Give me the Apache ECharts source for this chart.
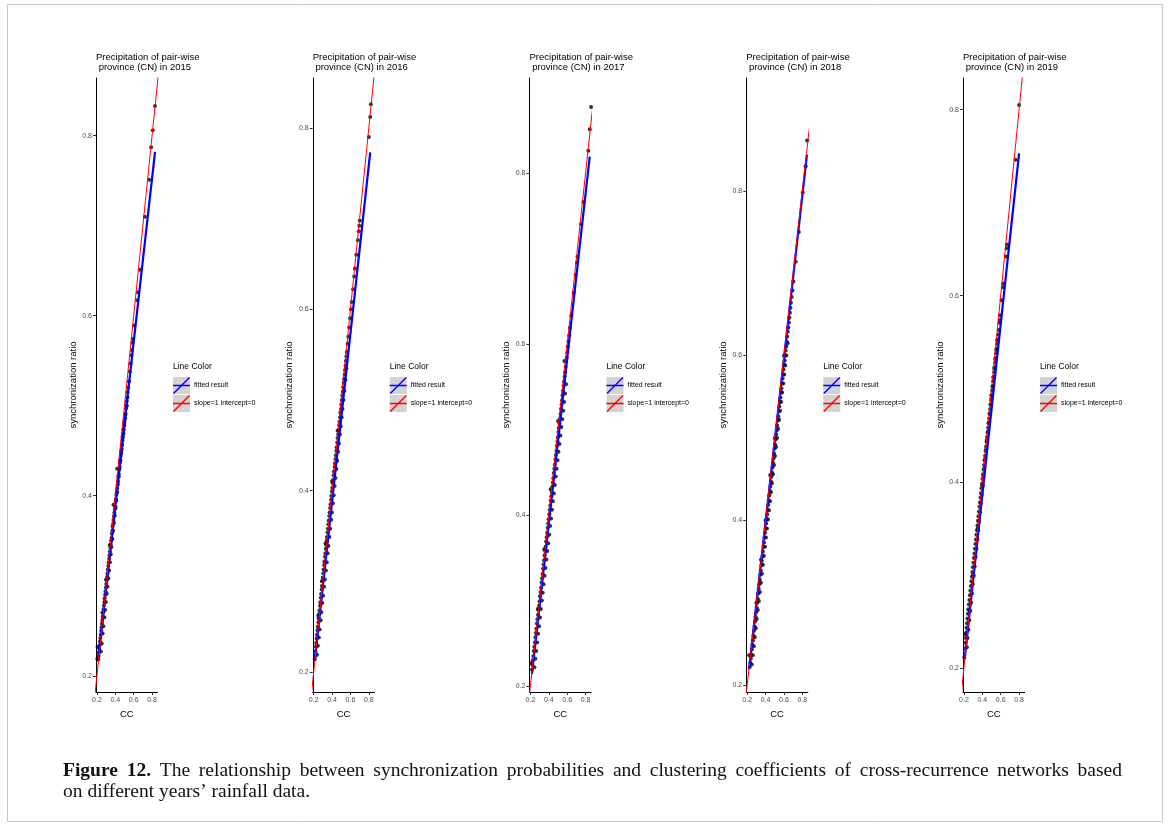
<!DOCTYPE html>
<html>
<head>
<meta charset="utf-8">
<script src="https://cdn.jsdelivr.net/npm/echarts@6/dist/echarts.min.js"></script>
<style>
html,body{margin:0;padding:0;background:#fff;}
#chart{width:1168px;height:825px;}
</style>
</head>
<body>
<div id="chart"></div>
<script>
// ---------- data ----------
const years = ['2015', '2016', '2017', '2018', '2019'];
const xTicks = [0.2, 0.4, 0.6, 0.8];
const yTicks = [0.2, 0.4, 0.6, 0.8];
const xRange = [0.19, 0.86];
const yRanges = [[0.182, 0.864], [0.178, 0.855], [0.193, 0.911], [0.1915, 0.937], [0.174, 0.834]];

// slope=1 intercept=0 reference line
const refLine = [[0, 0], [1, 1]];

// fitted (lm) line end points per year
const fit2015 = [[0.21, 0.216], [0.832, 0.782]];
const fit2016 = [[0.212, 0.213], [0.815, 0.773]];
const fit2017 = [[0.216, 0.214], [0.845, 0.819]];
const fit2018 = [[0.22, 0.219], [0.85, 0.844]];
const fit2019 = [[0.208, 0.209], [0.8, 0.753]];

// points: [CC, synchronization ratio]
const pts2015 = [
[0.832,0.833],[0.808,0.806],[0.79,0.787],[0.768,0.751],[0.722,0.71],[0.668,0.651],[0.645,0.626],[0.638,0.617],
[0.607,0.589],[0.592,0.574],[0.588,0.57],[0.58,0.562],[0.575,0.556],[0.567,0.547],[0.559,0.538],[0.548,0.527],[0.541,0.52],
[0.533,0.515],[0.531,0.509],[0.524,0.505],[0.52,0.5],[0.516,0.497],[0.51,0.491],[0.508,0.486],[0.5,0.483],[0.498,0.478],
[0.49,0.474],[0.489,0.469],[0.481,0.466],[0.478,0.461],[0.472,0.457],[0.47,0.452],[0.463,0.449],[0.459,0.444],[0.455,0.44],
[0.45,0.437],[0.447,0.432],[0.441,0.429],[0.438,0.424],[0.433,0.421],[0.429,0.416],[0.424,0.412],[0.42,0.408],[0.417,0.404],
[0.411,0.401],[0.407,0.396],[0.403,0.393],[0.398,0.388],[0.395,0.385],[0.389,0.381],[0.386,0.377],[0.38,0.373],[0.377,0.369],
[0.371,0.366],[0.368,0.361],[0.363,0.358],[0.359,0.353],[0.354,0.35],[0.35,0.346],[0.346,0.342],[0.341,0.338],[0.337,0.334],
[0.333,0.33],[0.328,0.326],[0.324,0.322],[0.319,0.318],[0.315,0.314],[0.311,0.31],[0.306,0.306],[0.302,0.302],[0.298,0.298],
[0.293,0.294],[0.289,0.29],[0.284,0.286],[0.281,0.282],[0.276,0.278],[0.272,0.274],[0.268,0.27],[0.263,0.266],[0.259,0.262],
[0.255,0.258],[0.25,0.254],[0.247,0.25],[0.242,0.246],[0.238,0.242],[0.234,0.238],[0.23,0.234],[0.226,0.23],[0.222,0.226],
[0.219,0.222],[0.215,0.218],[0.206,0.232],[0.204,0.219],[0.34,0.345],[0.3,0.307],[0.26,0.27],[0.42,0.43],[0.38,0.39],
[0.243,0.227],[0.252,0.236],[0.262,0.247],[0.27,0.255],[0.281,0.265],[0.289,0.273],[0.297,0.282],[0.307,0.291],[0.315,0.299],
[0.324,0.308],[0.333,0.317],[0.341,0.326],[0.35,0.335],[0.358,0.343],[0.368,0.352],[0.376,0.361],[0.385,0.37],[0.393,0.378],
[0.403,0.387],[0.411,0.395],[0.419,0.404],[0.428,0.413],[0.437,0.421],[0.445,0.43],[0.454,0.439],[0.463,0.447],[0.471,0.456],
[0.48,0.464],[0.49,0.473],[0.498,0.48],[0.51,0.49],[0.525,0.5]
];
const pts2016 = [
[0.822,0.826],[0.815,0.812],[0.8,0.79],[0.702,0.698],[0.696,0.692],[0.69,0.686],[0.681,0.676],[0.664,0.66],[0.649,0.645],
[0.641,0.636],[0.629,0.622],[0.614,0.608],[0.606,0.6],[0.597,0.59],[0.586,0.58],[0.577,0.57],[0.569,0.562],[0.561,0.553],
[0.556,0.548],[0.551,0.543],[0.547,0.538],[0.541,0.533],[0.537,0.528],[0.531,0.523],[0.527,0.519],[0.521,0.514],[0.517,0.509],
[0.511,0.505],[0.507,0.5],[0.5,0.495],[0.497,0.49],[0.49,0.486],[0.487,0.481],[0.481,0.476],[0.477,0.472],[0.471,0.467],
[0.467,0.462],[0.46,0.458],[0.457,0.453],[0.45,0.448],[0.447,0.444],[0.441,0.439],[0.437,0.435],[0.431,0.43],[0.428,0.426],
[0.421,0.421],[0.418,0.417],[0.412,0.412],[0.408,0.408],[0.402,0.403],[0.398,0.399],[0.392,0.394],[0.389,0.39],[0.383,0.385],
[0.379,0.381],[0.373,0.376],[0.37,0.372],[0.364,0.367],[0.36,0.363],[0.355,0.358],[0.351,0.354],[0.345,0.349],[0.342,0.345],
[0.336,0.34],[0.332,0.336],[0.327,0.331],[0.323,0.327],[0.317,0.322],[0.314,0.318],[0.308,0.313],[0.305,0.309],[0.299,0.304],
[0.296,0.3],[0.29,0.295],[0.287,0.291],[0.281,0.286],[0.278,0.282],[0.272,0.277],[0.269,0.273],[0.263,0.268],[0.26,0.264],
[0.254,0.259],[0.251,0.255],[0.245,0.25],[0.242,0.246],[0.236,0.241],[0.233,0.237],[0.228,0.232],[0.225,0.228],[0.22,0.223],
[0.217,0.218],[0.213,0.214],[0.33,0.342],[0.29,0.3],[0.4,0.41],[0.25,0.262],[0.46,0.466],
[0.236,0.219],[0.246,0.229],[0.256,0.238],[0.265,0.247],[0.276,0.257],[0.284,0.266],[0.295,0.276],[0.303,0.284],[0.314,0.294],
[0.322,0.302],[0.333,0.312],[0.342,0.321],[0.352,0.331],[0.36,0.339],[0.371,0.349],[0.38,0.358],[0.39,0.368],[0.398,0.376],
[0.409,0.386],[0.418,0.395],[0.428,0.405],[0.437,0.414],[0.447,0.424],[0.456,0.433],[0.466,0.443],[0.475,0.452],[0.485,0.462],
[0.494,0.471],[0.504,0.481],[0.513,0.49],[0.524,0.5],[0.533,0.51],[0.545,0.522],[0.555,0.535]
];
const pts2017 = [
[0.86,0.877],[0.845,0.851],[0.83,0.826],[0.776,0.766],[0.751,0.74],[0.712,0.702],[0.706,0.695],[0.692,0.681],[0.671,0.66],
[0.645,0.633],[0.631,0.619],[0.622,0.61],[0.613,0.603],[0.607,0.597],[0.601,0.59],[0.594,0.584],[0.589,0.579],[0.583,0.573],
[0.577,0.567],[0.572,0.562],[0.566,0.556],[0.561,0.551],[0.555,0.545],[0.549,0.54],[0.544,0.534],[0.538,0.529],[0.533,0.524],
[0.527,0.518],[0.522,0.513],[0.516,0.507],[0.51,0.502],[0.505,0.497],[0.499,0.491],[0.494,0.486],[0.488,0.481],[0.483,0.475],
[0.477,0.47],[0.471,0.465],[0.466,0.459],[0.46,0.454],[0.455,0.449],[0.449,0.443],[0.444,0.438],[0.438,0.433],[0.432,0.427],
[0.427,0.422],[0.421,0.417],[0.416,0.411],[0.41,0.406],[0.405,0.401],[0.399,0.395],[0.393,0.39],[0.388,0.385],[0.382,0.379],
[0.377,0.374],[0.371,0.369],[0.366,0.363],[0.36,0.358],[0.354,0.353],[0.349,0.347],[0.343,0.342],[0.338,0.337],[0.332,0.331],
[0.327,0.326],[0.321,0.321],[0.315,0.315],[0.31,0.31],[0.304,0.305],[0.299,0.299],[0.293,0.294],[0.288,0.289],[0.282,0.283],
[0.276,0.278],[0.271,0.273],[0.265,0.267],[0.26,0.262],[0.254,0.257],[0.249,0.251],[0.243,0.246],[0.237,0.241],[0.232,0.235],
[0.226,0.23],[0.221,0.225],[0.216,0.219],[0.212,0.227],[0.5,0.51],[0.42,0.43],[0.35,0.36],[0.28,0.29],[0.57,0.58],
[0.243,0.222],[0.253,0.232],[0.263,0.241],[0.273,0.251],[0.283,0.261],[0.294,0.27],[0.304,0.28],[0.313,0.29],[0.324,0.3],
[0.334,0.309],[0.343,0.319],[0.354,0.329],[0.364,0.338],[0.374,0.348],[0.384,0.358],[0.394,0.367],[0.405,0.377],[0.414,0.387],
[0.424,0.396],[0.435,0.406],[0.444,0.416],[0.455,0.425],[0.465,0.435],[0.475,0.445],[0.485,0.454],[0.495,0.464],[0.505,0.474],
[0.516,0.483],[0.526,0.493],[0.536,0.503],[0.546,0.512],[0.556,0.522],[0.567,0.532],[0.577,0.542],[0.588,0.553]
];
const pts2018 = [
[0.87,0.904],[0.852,0.861],[0.836,0.83],[0.805,0.798],[0.762,0.75],[0.728,0.714],[0.703,0.69],[0.692,0.679],[0.684,0.671],
[0.676,0.664],[0.671,0.658],[0.665,0.652],[0.659,0.646],[0.654,0.64],[0.648,0.634],[0.642,0.629],[0.636,0.623],[0.631,0.617],
[0.625,0.611],[0.619,0.606],[0.613,0.6],[0.608,0.594],[0.602,0.589],[0.596,0.583],[0.59,0.577],[0.585,0.572],[0.579,0.566],
[0.573,0.56],[0.567,0.555],[0.562,0.549],[0.556,0.543],[0.55,0.538],[0.544,0.532],[0.539,0.526],[0.533,0.521],[0.527,0.515],
[0.521,0.509],[0.516,0.504],[0.51,0.498],[0.504,0.492],[0.498,0.487],[0.493,0.481],[0.487,0.475],[0.481,0.47],[0.475,0.464],
[0.47,0.458],[0.464,0.453],[0.458,0.447],[0.452,0.441],[0.447,0.436],[0.441,0.43],[0.435,0.424],[0.429,0.419],[0.424,0.413],
[0.418,0.407],[0.412,0.402],[0.406,0.396],[0.401,0.39],[0.395,0.385],[0.389,0.379],[0.383,0.373],[0.378,0.368],[0.372,0.362],
[0.366,0.356],[0.36,0.351],[0.355,0.345],[0.349,0.339],[0.343,0.334],[0.337,0.328],[0.332,0.322],[0.326,0.317],[0.32,0.311],
[0.314,0.305],[0.309,0.3],[0.303,0.294],[0.297,0.288],[0.291,0.283],[0.286,0.277],[0.28,0.271],[0.274,0.266],[0.268,0.26],
[0.263,0.254],[0.257,0.249],[0.251,0.243],[0.245,0.237],[0.24,0.232],[0.234,0.227],[0.228,0.222],[0.222,0.236],[0.6,0.6],
[0.5,0.5],[0.4,0.4],[0.3,0.3],[0.45,0.455],[0.35,0.352],
[0.25,0.225],[0.261,0.236],[0.272,0.247],[0.283,0.258],[0.294,0.269],[0.305,0.28],[0.316,0.291],[0.327,0.302],[0.338,0.313],
[0.349,0.324],[0.36,0.335],[0.371,0.346],[0.382,0.357],[0.393,0.368],[0.404,0.379],[0.415,0.39],[0.426,0.401],[0.437,0.412],
[0.448,0.423],[0.459,0.434],[0.47,0.445],[0.481,0.456],[0.492,0.467],[0.503,0.478],[0.514,0.489],[0.525,0.5],[0.536,0.511],
[0.547,0.522],[0.558,0.533],[0.569,0.544],[0.58,0.555],[0.592,0.566],[0.603,0.577],[0.614,0.588],[0.626,0.6],[0.64,0.615]
];
const pts2019 = [
[0.8,0.805],[0.762,0.746],[0.668,0.655],[0.664,0.651],[0.658,0.642],[0.629,0.613],[0.624,0.609],[0.61,0.595],[0.594,0.579],
[0.589,0.574],[0.586,0.571],[0.578,0.563],[0.573,0.558],[0.567,0.553],[0.562,0.548],[0.556,0.543],[0.551,0.538],[0.545,0.533],
[0.54,0.528],[0.534,0.523],[0.529,0.518],[0.523,0.513],[0.518,0.508],[0.512,0.503],[0.507,0.498],[0.501,0.493],[0.496,0.488],
[0.49,0.483],[0.485,0.478],[0.479,0.473],[0.474,0.468],[0.468,0.463],[0.463,0.458],[0.457,0.453],[0.452,0.448],[0.446,0.443],
[0.441,0.438],[0.435,0.433],[0.43,0.428],[0.424,0.423],[0.419,0.418],[0.413,0.413],[0.408,0.408],[0.402,0.403],[0.397,0.398],
[0.391,0.393],[0.386,0.388],[0.38,0.383],[0.375,0.378],[0.369,0.373],[0.364,0.368],[0.358,0.363],[0.353,0.358],[0.347,0.353],
[0.342,0.348],[0.336,0.343],[0.331,0.338],[0.325,0.333],[0.32,0.328],[0.314,0.323],[0.309,0.318],[0.303,0.313],[0.298,0.308],
[0.292,0.303],[0.287,0.298],[0.281,0.293],[0.276,0.288],[0.27,0.283],[0.265,0.278],[0.259,0.273],[0.254,0.268],[0.248,0.263],
[0.243,0.258],[0.238,0.253],[0.234,0.248],[0.229,0.243],[0.226,0.238],[0.222,0.232],[0.218,0.227],[0.216,0.221],[0.204,0.211],
[0.215,0.236],[0.3,0.3],[0.35,0.35],[0.4,0.396],[0.45,0.445],[0.5,0.49],[0.26,0.262],
[0.232,0.222],[0.24,0.232],[0.249,0.241],[0.259,0.251],[0.268,0.261],[0.278,0.27],[0.288,0.28],[0.297,0.29],[0.307,0.299],
[0.317,0.309],[0.326,0.319],[0.336,0.328],[0.346,0.338],[0.355,0.348],[0.365,0.357],[0.375,0.367],[0.384,0.377],[0.394,0.386],
[0.404,0.396],[0.413,0.406],[0.423,0.415],[0.433,0.425],[0.442,0.435],[0.452,0.444],[0.462,0.454],[0.471,0.464],[0.481,0.473],
[0.491,0.483],[0.5,0.493],[0.51,0.502],[0.52,0.512],[0.53,0.522],[0.54,0.532],[0.551,0.542],[0.562,0.552]
];

const pointsByYear = [pts2015, pts2016, pts2017, pts2018, pts2019];
const fitsByYear = [fit2015, fit2016, fit2017, fit2018, fit2019];

const captionBold = 'Figure 12.';
const captionLine1 = 'The relationship between synchronization probabilities and clustering coefficients of cross-recurrence networks based';
const captionLine2 = 'on different years\u2019 rainfall data.';

// ---------- layout ----------
const panelLeft0 = 96, panelStep = 216.75, panelW = 61.6, panelTop = 78, panelH = 614;
const sans = "'Liberation Sans', Arial, Helvetica, sans-serif";
const serif = "'Liberation Serif', 'Times New Roman', serif";

const grids = [], xAxes = [], yAxes = [], series = [], titles = [], graphics = [];

years.forEach((yr, i) => {
  const left = panelLeft0 + i * panelStep;
  grids.push({ left: left, top: panelTop, width: panelW, height: panelH, containLabel: false });
  xAxes.push({
    type: 'value', gridIndex: i, min: xRange[0], max: xRange[1],
    name: 'CC', nameLocation: 'middle', nameGap: 16,
    nameTextStyle: { fontSize: 9.5, color: '#000', fontFamily: sans },
    axisLine: { show: true, lineStyle: { color: '#000', width: 1 } },
    axisTick: { show: true, length: 3, lineStyle: { color: '#333' }, customValues: xTicks },
    axisLabel: { fontSize: 7, color: '#4d4d4d', fontFamily: sans, margin: 5, customValues: xTicks,
      formatter: v => v.toFixed(1) },
    splitLine: { show: false }
  });
  yAxes.push({
    type: 'value', gridIndex: i, min: yRanges[i][0], max: yRanges[i][1],
    name: 'synchronization ratio', nameLocation: 'middle', nameGap: 18,
    nameTextStyle: { fontSize: 9.5, color: '#000', fontFamily: sans },
    axisLine: { show: true, lineStyle: { color: '#000', width: 1 } },
    axisTick: { show: true, length: 3, lineStyle: { color: '#333' }, customValues: yTicks },
    axisLabel: { fontSize: 7, color: '#4d4d4d', fontFamily: sans, margin: 4, customValues: yTicks,
      formatter: v => v.toFixed(1) },
    splitLine: { show: false }
  });
  series.push({
    type: 'scatter', xAxisIndex: i, yAxisIndex: i, data: pointsByYear[i],
    symbol: 'circle', symbolSize: 4, itemStyle: { color: '#000' }, z: 2
  });
  series.push({
    type: 'line', xAxisIndex: i, yAxisIndex: i, data: fitsByYear[i],
    showSymbol: false, symbol: 'none', lineStyle: { color: '#0000ff', width: 2.2 }, z: 3
  });
  series.push({
    type: 'line', xAxisIndex: i, yAxisIndex: i, data: refLine, clip: true,
    showSymbol: false, symbol: 'none', lineStyle: { color: '#ff0000', width: 1 }, z: 4
  });
  titles.push({
    text: 'Precipitation of pair-wise\n province (CN) in ' + yr,
    left: left, top: 52, padding: 0,
    textStyle: { fontSize: 9.5, fontWeight: 'normal', color: '#000', fontFamily: sans, lineHeight: 10.5 }
  });
  // legend drawn as graphics
  const lx = 173 + i * panelStep;
  graphics.push(
    { type: 'text', left: lx, top: 362, style: { text: 'Line Color', fontSize: 8.5, fill: '#000', fontFamily: sans } },
    { type: 'rect', shape: { x: lx, y: 377, width: 17, height: 17 }, style: { fill: '#d3d3d3' } },
    { type: 'line', shape: { x1: lx + 0.5, y1: 393.5, x2: lx + 16.5, y2: 377.5 }, style: { stroke: '#0000ff', lineWidth: 1.5 } },
    { type: 'line', shape: { x1: lx, y1: 385.5, x2: lx + 17, y2: 385.5 }, style: { stroke: '#0000ff', lineWidth: 1.5 } },
    { type: 'text', left: lx + 21, top: 381.5, style: { text: 'fitted result', fontSize: 7, fill: '#000', fontFamily: sans } },
    { type: 'rect', shape: { x: lx, y: 395, width: 17, height: 17 }, style: { fill: '#d3d3d3' } },
    { type: 'line', shape: { x1: lx + 0.5, y1: 411.5, x2: lx + 16.5, y2: 395.5 }, style: { stroke: '#ff0000', lineWidth: 1.5 } },
    { type: 'line', shape: { x1: lx, y1: 403.5, x2: lx + 17, y2: 403.5 }, style: { stroke: '#ff0000', lineWidth: 1.5 } },
    { type: 'text', left: lx + 21, top: 399.5, style: { text: 'slope=1 intercept=0', fontSize: 7, fill: '#000', fontFamily: sans } }
  );
});

// frame
graphics.push(
  { type: 'rect', shape: { x: 7.5, y: 4.5, width: 1155, height: 817 }, style: { fill: 'none', stroke: '#c8c8c8', lineWidth: 1 }, z: -1 }
);

// caption: first line justified between capL and capR (word positions from measured widths)
const capL = 63, capR = 1122, capSize = 19.5, capTop1 = 761, capTop2 = 782;
const mctx = document.createElement('canvas').getContext('2d');
const boldWords = captionBold.split(' ');
const normWords = captionLine1.split(' ');
const words = boldWords.map(w => ({ t: w, b: true })).concat(normWords.map(w => ({ t: w, b: false })));
let total = 0;
words.forEach(w => {
  mctx.font = (w.b ? 'bold ' : '') + capSize + 'px "Liberation Serif"';
  w.w = mctx.measureText(w.t).width;
  total += w.w;
});
const gap = (capR - capL - total) / (words.length - 1);
let cx = capL;
words.forEach(w => {
  graphics.push({ type: 'text', left: cx, top: capTop1, style: {
    text: w.t, fontSize: capSize, fontWeight: w.b ? 'bold' : 'normal', fill: '#111', fontFamily: serif } });
  cx += w.w + gap;
});
graphics.push({ type: 'text', left: capL, top: capTop2, style: {
  text: captionLine2, fontSize: capSize, fill: '#111', fontFamily: serif } });

const chart = echarts.init(document.getElementById('chart'), null, { renderer: 'canvas' });
chart.setOption({
  backgroundColor: '#fff',
  animation: false,
  title: titles,
  grid: grids,
  xAxis: xAxes,
  yAxis: yAxes,
  series: series,
  graphic: graphics
});
</script>
</body>
</html>
